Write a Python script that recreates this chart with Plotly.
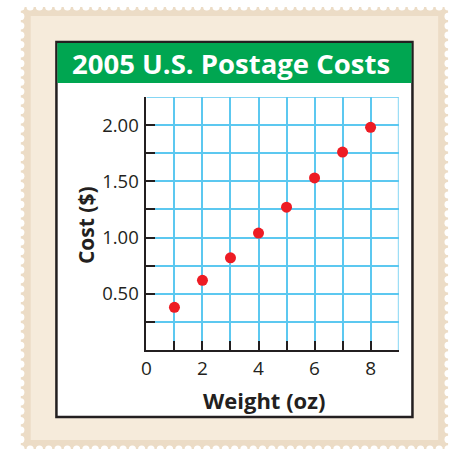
import plotly.graph_objects as go

# ---- data ----
weights = [1, 2, 3, 4, 5, 6, 7, 8]
costs = [0.38, 0.62, 0.82, 1.04, 1.27, 1.53, 1.76, 1.98]
x_tickvals = [0, 2, 4, 6, 8]
x_ticktext = ["0", "2", "4", "6", "8"]
y_tickvals = [0.5, 1.0, 1.5, 2.0]
y_ticktext = ["0.50", "1.00", "1.50", "2.00"]
title_text = "2005 U.S. Postage Costs"
x_title = "Weight (oz)"
y_title = "Cost ($)"

W, H = 453, 456
def px(x): return x / W
def py(y): return 1 - y / H

FONT = "Open Sans"
DARK = "#231f20"
GRID = "#5cc8f0"

shapes = []
# stamp body (outer, slightly darker) and inner lighter
shapes.append(dict(type="rect", xref="paper", yref="paper", layer="below",
                   x0=px(16), x1=px(448), y0=py(449), y1=py(7),
                   fillcolor="#ecdcc6", line=dict(width=0)))
shapes.append(dict(type="rect", xref="paper", yref="paper", layer="below",
                   x0=px(26), x1=px(438), y0=py(440), y1=py(16),
                   fillcolor="#f6ebdb", line=dict(width=0)))
# perforations
r = 3.6
step = 9.4
n = int((448 - 16) / step)
for i in range(n + 1):
    cx = 16 + i * step
    for cy in (7, 449):
        shapes.append(dict(type="circle", xref="paper", yref="paper", layer="below",
                           x0=px(cx - r), x1=px(cx + r), y0=py(cy + r), y1=py(cy - r),
                           fillcolor="white", line=dict(width=0)))
m = int((449 - 7) / step)
for i in range(m + 1):
    cy = 7 + i * step
    for cx in (16, 448):
        shapes.append(dict(type="circle", xref="paper", yref="paper", layer="below",
                           x0=px(cx - r), x1=px(cx + r), y0=py(cy + r), y1=py(cy - r),
                           fillcolor="white", line=dict(width=0)))
# white card with black border
shapes.append(dict(type="rect", xref="paper", yref="paper", layer="below",
                   x0=px(52), x1=px(412), y0=py(417), y1=py(42),
                   fillcolor="white", line=dict(color="#231f20", width=2.5)))
# green title bar
shapes.append(dict(type="rect", xref="paper", yref="paper", layer="below",
                   x0=px(53), x1=px(411), y0=py(83), y1=py(43),
                   fillcolor="#00a651", line=dict(width=0)))
# top / right grid edges
shapes.append(dict(type="line", xref="x", yref="y", x0=0, x1=9, y0=2.25, y1=2.25,
                   line=dict(color=GRID, width=1.5), layer="below"))
shapes.append(dict(type="line", xref="x", yref="y", x0=9, x1=9, y0=0, y1=2.25,
                   line=dict(color=GRID, width=1.5), layer="below"))

fig = go.Figure(go.Scatter(
    x=weights, y=costs, mode="markers",
    marker=dict(color="#ed1c24", size=11, line=dict(width=0)),
    showlegend=False, hoverinfo="skip"))

fig.update_layout(
    width=W, height=H,
    margin=dict(l=0, r=0, t=0, b=0),
    paper_bgcolor="white", plot_bgcolor="white",
    shapes=shapes,
    font=dict(family=FONT, color=DARK),
    xaxis=dict(domain=[px(143), px(398)], range=[0, 9],
               tickvals=x_tickvals, ticktext=x_ticktext,
               showgrid=True, gridcolor=GRID, gridwidth=1.5,
               ticks="inside", ticklen=9, tickwidth=2, tickcolor=DARK,
               minor=dict(dtick=1, tick0=0, showgrid=True, gridcolor=GRID, gridwidth=1.5,
                          ticks="inside", ticklen=9, tickwidth=2, tickcolor=DARK),
               showline=True, linecolor=DARK, linewidth=2,
               zeroline=False, tickfont=dict(size=19, color=DARK, family=FONT),
               fixedrange=True),
    yaxis=dict(domain=[py(350), py(97)], range=[0, 2.25],
               tickvals=y_tickvals, ticktext=y_ticktext,
               showgrid=True, gridcolor=GRID, gridwidth=1.5,
               ticks="inside", ticklen=9, tickwidth=2, tickcolor=DARK,
               minor=dict(dtick=0.25, tick0=0, showgrid=True, gridcolor=GRID, gridwidth=1.5,
                          ticks="inside", ticklen=9, tickwidth=2, tickcolor=DARK),
               showline=True, linecolor=DARK, linewidth=2,
               ticklabelstandoff=2,
               zeroline=False, tickfont=dict(size=18.5, color=DARK, family=FONT),
               fixedrange=True),
    annotations=[
        dict(text="<b>" + title_text + "</b>", xref="paper", yref="paper",
             x=px(229), y=py(63), showarrow=False, xanchor="center", yanchor="middle",
             font=dict(size=27.5, color="white", family=FONT)),
        dict(text="<b>" + x_title + "</b>", xref="paper", yref="paper",
             x=px(262), y=py(400), showarrow=False, xanchor="center", yanchor="middle",
             font=dict(size=22, color=DARK, family=FONT)),
        dict(text="<b>" + y_title + "</b>", xref="paper", yref="paper",
             x=px(82), y=py(225), showarrow=False, xanchor="center", yanchor="middle",
             textangle=-90, font=dict(size=21, color=DARK, family=FONT)),
    ],
)

fig.write_html("out.html", config={"displayModeBar": False},
               post_script="document.body.style.margin='0';document.body.style.padding='0';")
